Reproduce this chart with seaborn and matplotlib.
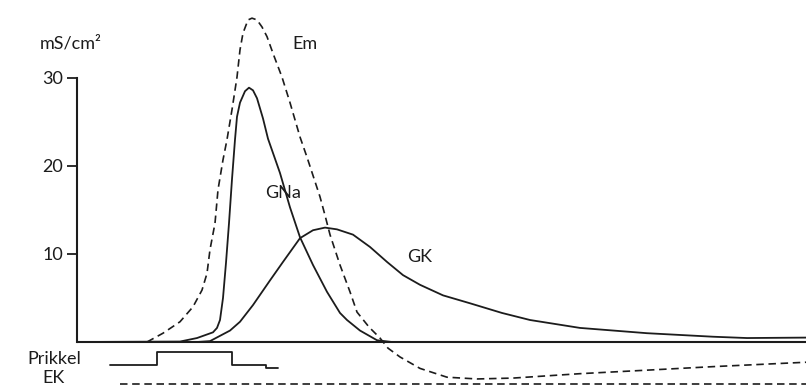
import numpy as np
import seaborn as sns
import matplotlib.pyplot as plt

# tijd in ms, waarden op de schaal van de figuur (mS/cm2)
t_em = [0.70, 0.86, 1.03, 1.16, 1.25, 1.30, 1.33, 1.38, 1.41, 1.46, 1.50, 1.55, 1.60,
        1.63, 1.66, 1.71, 1.75, 1.80, 1.85, 1.90, 1.96, 2.05, 2.13, 2.23, 2.30, 2.43,
        2.48, 2.53, 2.63, 2.73, 2.80, 2.92, 3.03, 3.11, 3.23, 3.43, 3.70, 4.00, 4.36,
        5.03, 5.70, 6.36, 7.29]
em = [0.0, 1.0, 2.3, 4.0, 5.9, 7.8, 10.5, 13.5, 17.3, 20.7, 23.0, 26.4, 30.1,
      33.2, 35.1, 36.6, 36.8, 36.6, 35.8, 34.7, 32.8, 30.1, 27.2, 23.3, 21.0, 16.5,
      14.4, 12.2, 8.75, 5.7, 3.4, 1.7, 0.45, -0.7, -1.7, -3.0, -4.0, -4.2, -4.1,
      -3.6, -3.2, -2.8, -2.3]

t_na = [0.0, 1.03, 1.20, 1.36, 1.40, 1.43, 1.46, 1.49, 1.52, 1.55, 1.58, 1.60, 1.63,
        1.68, 1.72, 1.76, 1.80, 1.86, 1.91, 2.03, 2.13, 2.23, 2.36, 2.50, 2.63, 2.70,
        2.83, 3.00, 3.15, 7.29]
g_na = [0.0, 0.05, 0.45, 1.1, 1.6, 2.5, 5.0, 9.0, 13.5, 18.5, 23.0, 25.6, 27.2,
        28.5, 28.9, 28.6, 27.7, 25.4, 23.1, 19.2, 15.3, 11.9, 8.75, 5.7, 3.3, 2.5,
        1.3, 0.2, 0.0, 0.0]

t_k = [0.0, 1.20, 1.33, 1.53, 1.63, 1.76, 1.93, 2.06, 2.23, 2.36, 2.48, 2.60, 2.76,
       2.93, 3.10, 3.26, 3.43, 3.66, 3.93, 4.25, 4.53, 5.03, 5.70, 6.36, 6.70, 7.29]
g_k = [0.0, 0.0, 0.1, 1.3, 2.3, 4.2, 7.0, 9.1, 11.8, 12.7, 13.0, 12.8, 12.2,
       10.8, 9.1, 7.6, 6.5, 5.3, 4.4, 3.3, 2.5, 1.6, 1.0, 0.6, 0.45, 0.5]

t_prikkel = [0.33, 0.80, 1.55, 1.89, 2.01]
prikkel = [-2.61, -1.19, -2.61, -3.01, -3.01]

t_ek = [0.43, 7.29]
ek = [-4.77, -4.77]

yticks = [10, 20, 30]

sns.set_style("white")
plt.rcParams['font.family'] = ['Lato', 'DejaVu Sans']

ink = '#1c1c1c'
fig = plt.figure(figsize=(8.06, 3.86), dpi=100)
ax = fig.add_axes([77 / 806, 0, 729 / 806, 1])

dash = (0, (4.5, 2.8))
sns.lineplot(x=t_em, y=em, ax=ax, color=ink, linewidth=1.2, linestyle=dash,
             estimator=None, sort=False)
sns.lineplot(x=t_na, y=g_na, ax=ax, color=ink, linewidth=1.3, estimator=None, sort=False)
sns.lineplot(x=t_k, y=g_k, ax=ax, color=ink, linewidth=1.3, estimator=None, sort=False)
sns.lineplot(x=t_prikkel, y=prikkel, ax=ax, color=ink, linewidth=1.3,
             drawstyle='steps-post', estimator=None, sort=False)
sns.lineplot(x=t_ek, y=ek, ax=ax, color=ink, linewidth=1.2, linestyle=dash,
             estimator=None, sort=False)
ax.axhline(0, color=ink, linewidth=1.5)

ax.set_xlim(0, 7.29)
ax.set_ylim(-44 / 8.8, 342 / 8.8)
ax.set_xticks([])
ax.set_yticks(yticks)
ax.set_yticklabels([str(v) for v in yticks], fontsize=13, color=ink)
ax.tick_params(axis='y', length=7, width=1.3, color=ink, pad=3, left=True)
for s in ['top', 'right', 'bottom']:
    ax.spines[s].set_visible(False)
ax.spines['left'].set_bounds(0, 30)
ax.spines['left'].set_linewidth(1.5)
ax.spines['left'].set_color(ink)
ax.patch.set_alpha(0)

kw = dict(fontsize=13, color=ink, clip_on=False)
ax.text(-0.37, 33.9, 'mS/cm²', ha='left', va='center', **kw)
ax.text(2.15, 33.9, 'Em', ha='left', va='center', **kw)
ax.text(1.88, 16.9, 'GNa', ha='left', va='center', **kw)
ax.text(3.30, 9.7, 'GK', ha='left', va='center', **kw)
ax.text(0.04, -1.93, 'Prikkel', ha='right', va='center', **kw)
ax.text(-0.23, -4.95, 'EK', ha='center', va='bottom', **kw)

fig.savefig('out.png', dpi=100)
